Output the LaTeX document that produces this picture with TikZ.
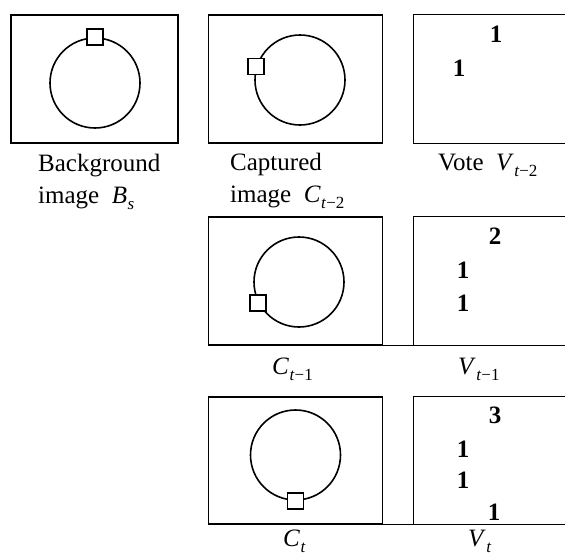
\documentclass[tikz,border=0pt]{standalone}
\usepackage{fontspec}
\setmainfont{Liberation Serif}
\usetikzlibrary{positioning}

% italic symbol with a lowered index
\newcommand{\idx}[2]{\textit{#1}\kern0.5pt\raisebox{-6pt}{\fontsize{17}{17}\selectfont #2}}

\begin{document}
\begin{tikzpicture}[x=1pt, y=-1pt,
    frame/.style={draw, line width=1.3pt, minimum height=128pt, inner sep=0pt},
    ring/.style={draw, circle, line width=1.6pt, minimum size=90pt, inner sep=0pt},
    pix/.style={draw, fill=white, line width=1.6pt, minimum size=16pt, inner sep=0pt},
    lbl/.style={font=\fontsize{25}{32}\selectfont, inner sep=0pt, align=left},
    num/.style={font=\fontsize{25}{25}\selectfont\bfseries, inner sep=0pt},
    edge/.style={line width=1.3pt}
]
    \useasboundingbox (0,0) rectangle (565,557);

    % background image
    \node[frame, minimum width=167pt] (bg) at (94.5,79) {};
    \node[ring] (bgring) at (95,83) {};
    \node[pix] (bgpix) at (bgring.90) {};
    \node[lbl, anchor=north west] (bglbl) at (38,154) {Background\\image\ \ \idx{B}{\textit{s}}};

    % captured images
    \node[frame, minimum width=174pt] (cap2) at (295.5,79) {};
    \node[ring] (ring2) at (300,80) {};
    \node[pix] (pix2) at (ring2.163) {};
    \node[lbl, anchor=north west] (caplbl2) at (230,153) {Captured\\image\ \ \idx{C}{\textit{t}−2}};

    \node[frame, minimum width=174pt] (cap1) at (295.5,281) {};
    \node[ring] (ring1) at (299,282) {};
    \node[pix] (pix1) at (ring1.207) {};
    \node[lbl, anchor=base west] (caplbl1) at (272,374) {\idx{C}{\textit{t}−1}};

    \node[frame, minimum width=174pt, minimum height=127pt] (cap0) at (295.5,460.5) {};
    \node[ring] (ring0) at (295.5,455) {};
    \node[pix] (pix0) at (ring0.270) {};
    \node[lbl, anchor=base west] (caplbl0) at (283,546) {\idx{C}{\textit{t}}};

    % vote maps
    \node[frame, draw=none, minimum width=151pt] (vote2) at (489.5,79) {};
    \node[frame, draw=none, minimum width=151pt] (vote1) at (489.5,281) {};
    \node[frame, draw=none, minimum width=151pt, minimum height=127pt] (vote0) at (489.5,460.5) {};
    \foreach \v in {vote2,vote1,vote0}
        \draw[edge] (\v.north east) -- (\v.north west) -- (\v.south west) -- (\v.south east);
    \draw[edge] (cap1.south west) -- (vote1.south east);
    \draw[edge] (cap0.south west) -- (vote0.south east);

    \node[lbl, anchor=base west] (votelbl2) at (438,170) {Vote\ \ \idx{V}{\textit{t}−2}};
    \node[lbl, anchor=base west] (votelbl1) at (458,374) {\idx{V}{\textit{t}−1}};
    \node[lbl, anchor=base west] (votelbl0) at (468,546) {\idx{V}{\textit{t}}};

    \node[num] (n2a) at (496,34) {1};
    \node[num] (n2b) at (459,68) {1};

    \node[num] (n1a) at (495,236) {2};
    \node[num] (n1b) at (463,270) {1};
    \node[num] (n1c) at (463,303) {1};

    \node[num] (n0a) at (495,415) {3};
    \node[num] (n0b) at (463,449) {1};
    \node[num] (n0c) at (463,480) {1};
    \node[num] (n0d) at (494,512) {1};
\end{tikzpicture}
\end{document}
